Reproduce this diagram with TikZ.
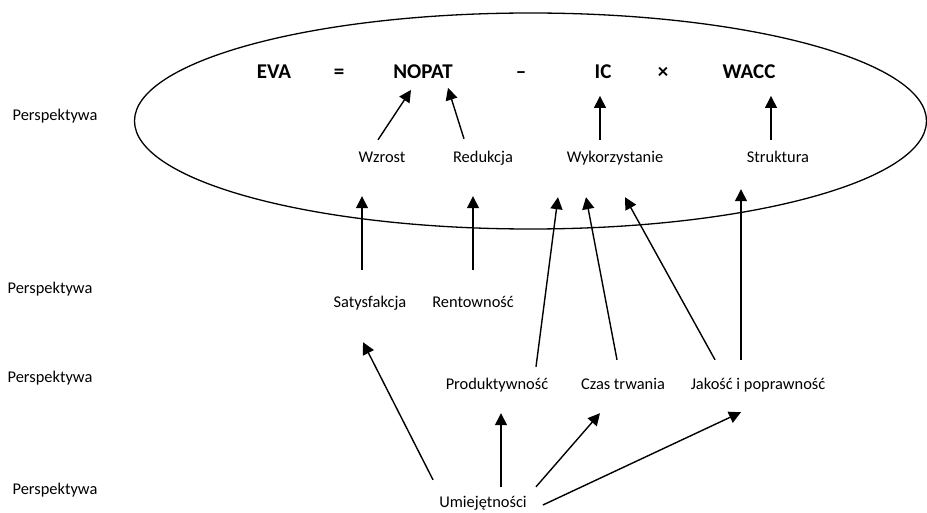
\documentclass[tikz,border=0pt]{standalone}
\usepackage{fontspec}
\setmainfont{Carlito}
\usepackage{xcolor}
\usepackage{tikz}
\usetikzlibrary{positioning, arrows.meta, calc}

\begin{document}
\begin{tikzpicture}[x=1pt, y=1pt,
  eqterm/.style={font=\fontsize{21}{24}\selectfont\bfseries, inner sep=0pt, text height=13.5pt, text depth=0pt},
  lbl/.style={font=\fontsize{16.4}{20}\selectfont, inner sep=0pt, text height=11pt, text depth=3pt},
  arr/.style={-{Triangle[length=12pt, width=12pt]}, line width=1.4pt}]
  \useasboundingbox (0,0) rectangle (927,512);

  \draw[line width=1.3pt] (530.5,391) ellipse [x radius=396, y radius=108];

  \node[eqterm] (eva) at (274,440) {EVA};
  \node[eqterm] (eqsign) at (339,440) {=};
  \node[eqterm] (nopat) at (423,440) {NOPAT};
  \node[eqterm] (minus) at (521,440) {--};
  \node[eqterm] (ic) at (603,440) {IC};
  \node[eqterm] (times) at (663,440) {×};
  \node[eqterm] (wacc) at (749,440) {WACC};

  \node[lbl] (wzrost) at (382,353) {Wzrost};
  \node[lbl] (redukcja) at (483,353) {Redukcja};
  \node[lbl] (wyk) at (615,353) {Wykorzystanie};
  \node[lbl] (struktura) at (778,353) {Struktura};

  \node[lbl] (satys) at (370,208) {Satysfakcja};
  \node[lbl] (rent) at (473,208) {Rentowność};

  \node[lbl] (prod) at (497,126) {Produktywność};
  \node[lbl] (czas) at (623,126) {Czas trwania};
  \node[lbl] (jakosc) at (758,126) {Jakość i poprawność};

  \node[lbl] (umiej) at (483,9) {Umiejętności};

  \node[lbl] (persp1) at (55,395) {Perspektywa};
  \node[lbl] (persp2) at (50,222) {Perspektywa};
  \node[lbl] (persp3) at (50,133) {Perspektywa};
  \node[lbl] (persp4) at (55,22) {Perspektywa};

  \draw[arr] ([shift={(-4,12)}]wzrost.north) -- ([shift={(-12,-11)}]nopat.south);
  \draw[arr] ([shift={(-19,13)}]redukcja.north) -- ([shift={(25,-9)}]nopat.south);
  \draw[arr] ([shift={(-15,12)}]wyk.north) -- ([shift={(-3,-17)}]ic.south);
  \draw[arr] ([shift={(-7,12)}]struktura.north) -- ([shift={(22,-17)}]wacc.south);

  \draw[arr] ([shift={(-8,27)}]satys.north) -- ([shift={(-20,-30)}]wzrost.south);
  \draw[arr] ([shift={(0,27)}]rent.north) -- ([shift={(-10,-30)}]redukcja.south);
  \draw[arr] ([shift={(39,12)}]prod.north) -- ([shift={(-57,-31)}]wyk.south);
  \draw[arr] ([shift={(-6,19)}]czas.north) -- ([shift={(-29,-31)}]wyk.south);
  \draw[arr] ([shift={(-43,19)}]jakosc.north) -- ([shift={(10,-31)}]wyk.south);
  \draw[arr] ([shift={(-17,19)}]jakosc.north) -- ([shift={(-37,-23)}]struktura.south);

  \draw[arr] ([shift={(-50,16)}]umiej.north) -- ([shift={(-7,-31)}]satys.south);
  \draw[arr] ([shift={(18,9)}]umiej.north) -- ([shift={(4,-20)}]prod.south);
  \draw[arr] ([shift={(53,9)}]umiej.north) -- ([shift={(-23,-20)}]czas.south);
  \draw[arr] ([shift={(16,-2)}]umiej.east) -- ([shift={(-17,-19)}]jakosc.south);
\end{tikzpicture}
\end{document}
